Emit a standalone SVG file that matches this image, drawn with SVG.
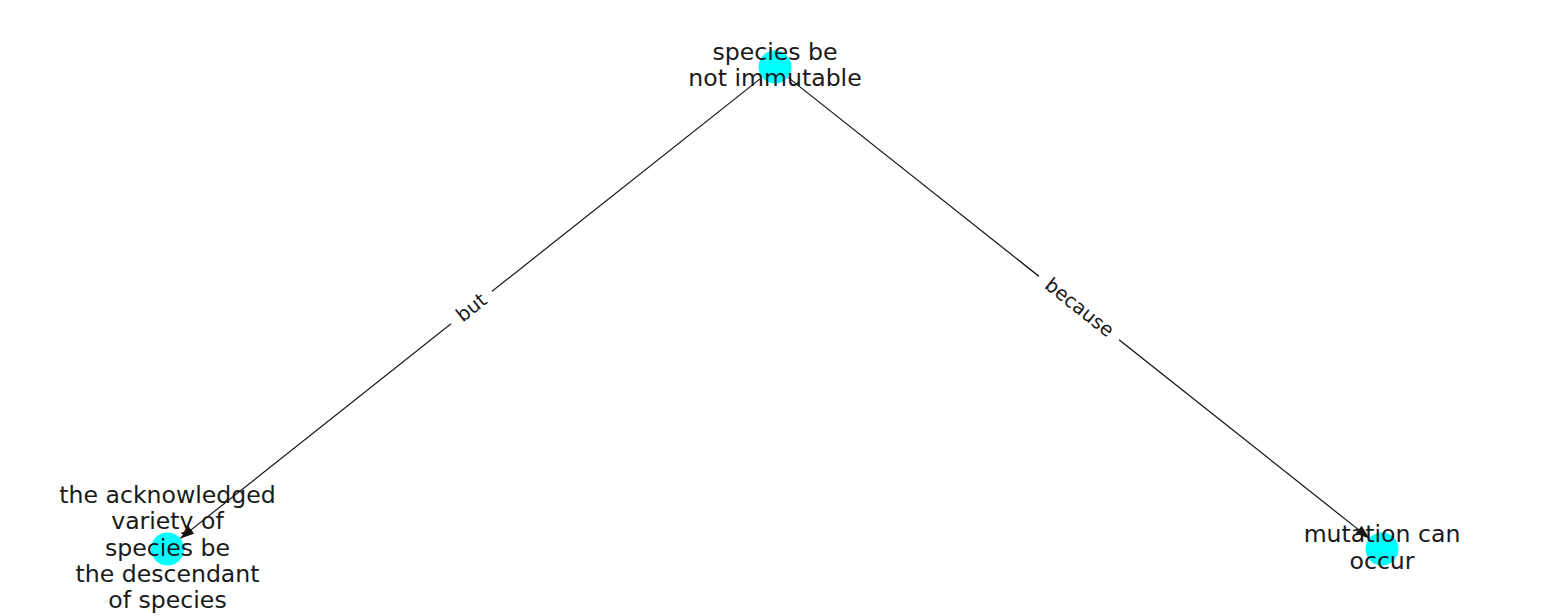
<svg xmlns="http://www.w3.org/2000/svg" width="1550" height="616" viewBox="0 0 1550 616">
<defs>
<style>
.node{fill:#00ffff;}
.nl{font-family:"DejaVu Sans",sans-serif;font-size:23.6px;fill:#1a1a1a;text-anchor:middle;}
.el{font-family:"DejaVu Sans",sans-serif;font-size:19.5px;fill:#1a1a1a;text-anchor:middle;dominant-baseline:central;}
.edge{stroke:#111111;stroke-width:1.2;fill:none;}
.lb{fill:#ffffff;}
</style>
<marker id="ah" viewBox="0 0 14 10" refX="14" refY="5" markerWidth="14" markerHeight="10" markerUnits="userSpaceOnUse" orient="auto">
<path d="M0,0 L14,5 L0,10 Z" fill="#111111"/>
</marker>
</defs>
<rect width="1550" height="616" fill="#ffffff"/>
<g id="connectors">
<line class="edge" x1="761.7" y1="77.6" x2="180.3" y2="538.4" marker-end="url(#ah)"/>
<line class="edge" x1="788.3" y1="77.6" x2="1369.5" y2="538.4" marker-end="url(#ah)"/>
<g transform="translate(471.5,307.5) rotate(-38.4)">
<rect class="lb" x="-26" y="-13" width="52" height="26" rx="5"/>
<text class="el" x="0" y="0">but</text>
</g>
<g transform="translate(1079.5,307.5) rotate(38.4)">
<rect class="lb" x="-51" y="-13" width="102" height="26" rx="5"/>
<text class="el" x="0" y="0">because</text>
</g>
</g>
<g id="n1">
<circle class="node" cx="775" cy="67" r="16.5"/>
<text class="nl" x="775" y="59.5">species be</text>
<text class="nl" x="775" y="85.9">not immutable</text>
</g>
<g id="n2">
<circle class="node" cx="167.5" cy="549" r="16.5"/>
<text class="nl" x="167.5" y="502.7">the acknowledged</text>
<text class="nl" x="167.5" y="529.1">variety of</text>
<text class="nl" x="167.5" y="555.5">species be</text>
<text class="nl" x="167.5" y="581.9">the descendant</text>
<text class="nl" x="167.5" y="608.3">of species</text>
</g>
<g id="n3">
<circle class="node" cx="1382" cy="549" r="16.5"/>
<text class="nl" x="1382" y="542.3">mutation can</text>
<text class="nl" x="1382" y="568.7">occur</text>
</g>
</svg>
